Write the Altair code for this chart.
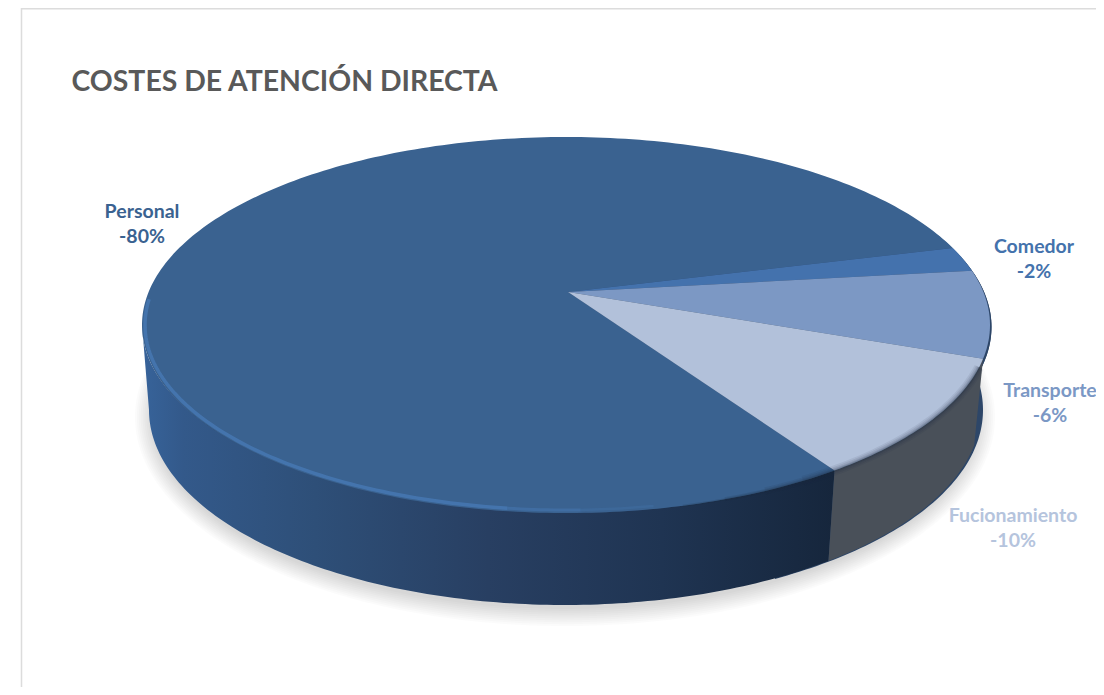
import numpy as np
import pandas as pd
import altair as alt

# ---- values ----
TITLE = "COSTES DE ATENCIÓN DIRECTA"
categories = ["Personal", "Comedor", "Transporte", "Fucionamiento"]
shares = [79.2, 2.05, 7.55, 11.2]          # slice sizes as drawn
labels = ["-80%", "-2%", "-6%", "-10%"]    # printed labels
colors = ["#3a6290", "#4472ad", "#7c98c4", "#b2c1da"]
label_colors = ["#3a6290", "#4472ac", "#7b98c5", "#b5c4dd"]

# ---- layout (reference pixels) ----
START = 309.3            # where the first slice starts (deg, y up), runs clockwise
TOP = dict(cx=566, cy=325, rx=424, ry=188)
BOT = dict(cx=565, cy=410, rx=416, ry=195)
APEX = (568, 292)
label_xy = {"Personal": (142, 212), "Comedor": (1034, 247),
            "Transporte": (1050, 391), "Fucionamiento": (1013, 516)}
W, H = 1088, 679
X = alt.X("x:Q", axis=None, scale=alt.Scale(domain=[8, 8 + W], nice=False, zero=False))
Y = alt.Y("y:Q", axis=None, scale=alt.Scale(domain=[8, 8 + H], reverse=True, nice=False, zero=False))


def arc(e, t0, t1, dr=0.0, dx=0.0, dy=0.0):
    n = max(2, int(abs(t1 - t0)) + 2)
    t = np.radians(np.linspace(t0, t1, n))
    return list(zip(e["cx"] + dx + (e["rx"] + dr) * np.cos(t),
                    e["cy"] + dy - (e["ry"] + dr) * np.sin(t)))


def table(points, name="a"):
    return pd.DataFrame([{"x": float(p[0]), "y": float(p[1]), "i": i, "g": name}
                         for i, p in enumerate(points)])


def shape(df, **mark):
    return alt.Chart(df).mark_line(strokeWidth=0, **mark).encode(
        x=X, y=Y, order=alt.Order("i:Q"), detail="g:N")


def stroke_arc(points, color, width, opacity):
    return alt.Chart(table(points)).mark_line(
        stroke=color, strokeWidth=width, opacity=opacity).encode(
        x=X, y=Y, order=alt.Order("i:Q"))


def grad(stops):
    return alt.LinearGradient(gradient="linear", x1=0, x2=1, y1=0, y2=0,
                              stops=[alt.GradientStop(color=c, offset=o) for o, c in stops])


# slice limits from the shares (clockwise from START)
edges = [START]
for s in shares:
    edges.append(edges[-1] - s * 3.6)
wall_left = 180.0
wall_split = START
wall_right = edges[3] + 360 if edges[3] < 0 else edges[3]

# soft shadow under the disc
shadow_rows = [table(arc(BOT, 0, 360, dr=k * 1.9 - 3, dy=7), f"s{k}") for k in range(10)]
shadow = shape(pd.concat(shadow_rows), fill="#000000", opacity=0.014)

# walls
back = shape(table(arc(TOP, 300, 385, dy=2, dx=1.5) + arc(BOT, 385, 300, dx=2)), fill="#2d4668")
rim = shape(table(arc(TOP, 0, 360, dx=1.5, dy=2)), fill="#2d4668")
wall_personal = shape(table(arc(TOP, wall_left, wall_split) + arc(BOT, wall_split, wall_left)),
                      fill=grad([(0.0, "#37639a"), (0.06, "#33598a"), (0.25, "#2e4f78"),
                                 (0.5, "#283f62"), (0.75, "#1f3452"), (1.0, "#16263c")]))
wall_func = shape(table(arc(TOP, wall_split, wall_right) + arc(BOT, wall_right, wall_split)),
                  fill="#495059")

# top face: one closed sector per category
face_rows = []
for idx, c in enumerate(categories):
    d = table([APEX] + arc(TOP, edges[idx], edges[idx + 1]), c)
    d["slice"] = c
    face_rows.append(d)
faces = alt.Chart(pd.concat(face_rows)).mark_line(strokeWidth=0).encode(
    x=X, y=Y, order=alt.Order("i:Q"), detail="g:N",
    fill=alt.Fill("slice:N", legend=None,
                  scale=alt.Scale(domain=categories, range=colors)))

# bevel: highlight lower-left fading along the bottom, soft dark lip lower-right
bevel = [
    stroke_arc(arc(TOP, 172, 262, dr=-3), "#4677b0", 3.5, 0.9),
    stroke_arc(arc(TOP, 262, 272, dr=-3), "#4677b0", 3.0, 0.55),
    stroke_arc(arc(TOP, 272, 282, dr=-3), "#4677b0", 2.5, 0.3),
]
for t0, w, op in [(304, 10, 0.08), (298, 7, 0.10), (292, 4, 0.14), (286, 2, 0.18)]:
    bevel.append(stroke_arc(arc(TOP, t0, 347), "#1b2a3e", w, op))

# data labels
label_df = pd.DataFrame({
    "x": [label_xy[c][0] for c in categories],
    "y": [label_xy[c][1] for c in categories],
    "txt": [f"{c}\n{l}" for c, l in zip(categories, labels)],
    "cat": categories,
})
text = alt.Chart(label_df).mark_text(
    font="Lato", fontSize=19.5, fontWeight="bold", lineBreak="\n", lineHeight=25,
    align="center", baseline="middle").encode(
    x=X, y=Y, text="txt:N",
    color=alt.Color("cat:N", legend=None,
                    scale=alt.Scale(domain=categories, range=label_colors)))

frame_top = alt.Chart(pd.DataFrame({"y": [8]})).mark_rule(
    color="#dcdcdc", strokeWidth=1.5).encode(x=alt.value(13.5), x2=alt.value(W), y=alt.value(0.75))
frame_left = alt.Chart(pd.DataFrame({"x": [21]})).mark_rule(
    color="#dcdcdc", strokeWidth=1.5).encode(x=alt.value(13.5), y=alt.value(0), y2=alt.value(H))

chart = alt.layer(
    frame_top, frame_left, shadow, back, rim, wall_personal, wall_func, faces, *bevel, text
).properties(
    width=W, height=H, padding=0, autosize=alt.AutoSizeParams(type="none"),
    title=alt.TitleParams(TITLE, anchor="start", frame="group", font="Lato", fontSize=28.4,
                          fontWeight="bold", color="#595959", baseline="alphabetic",
                          dx=63.5, dy=112, offset=0),
).configure_view(stroke=None)

chart.save("out.html", embed_options={"renderer": "svg", "actions": False})
